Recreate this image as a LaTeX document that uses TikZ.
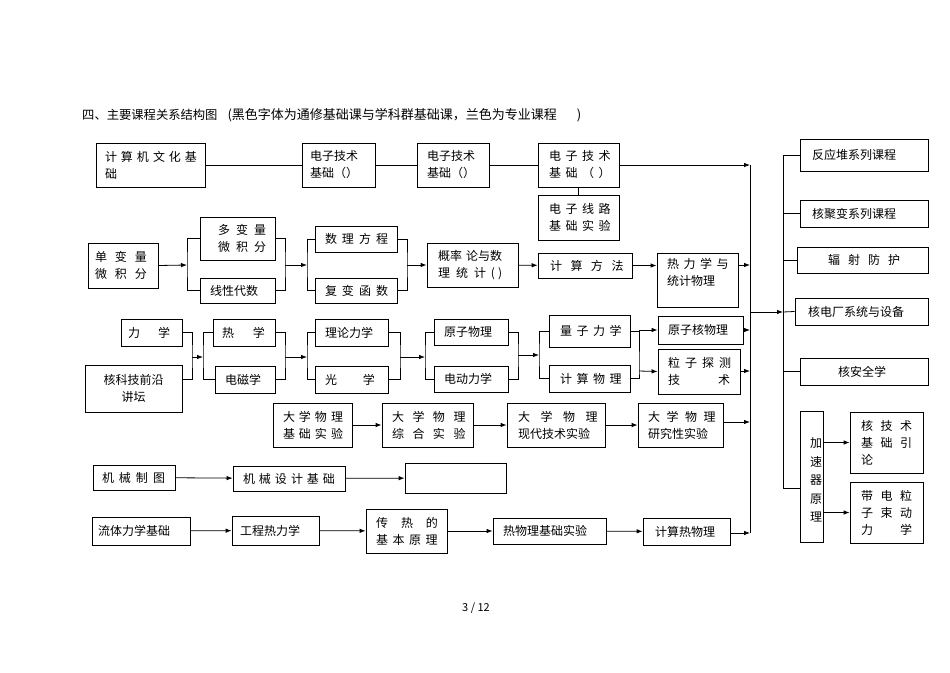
\documentclass[tikz,border=0pt]{standalone}
\usepackage{fontspec}
\setmainfont{Noto Sans CJK SC}
\usetikzlibrary{arrows.meta}
\makeatletter
\newcommand\spreadtxt[2]{\def\spr@gap{#1}\spr@a#2\relax}
\def\spr@a#1#2{#1\ifx\relax#2\else\kern\spr@gap\relax\expandafter\spr@a\expandafter#2\fi}
\makeatother
\newcommand\bx[7]{%
 \pgfmathsetmacro\bxw{#4-#2}\pgfmathsetmacro\bxh{#5-#3}\pgfmathsetmacro\bxt{#4-#2-2*#6}%
 \node[box,minimum width=\bxw pt,minimum height=\bxh pt,text width=\bxt pt,align=left] (#1) at ({(#2+#4)/2},{(#3+#5)/2}) {#7};}
\tikzset{
 box/.style={draw,line width=0.8pt,inner sep=0pt,font=\fontsize{12}{17}\selectfont},
 ln/.style={line width=0.8pt},
 arr/.style={line width=0.8pt,-{Latex[length=6pt,width=4.5pt]}}
}
\begin{document}
\begin{tikzpicture}[x=1pt,y=-1pt]
\useasboundingbox (0,0) rectangle (950,672);
\fill[white] (0,0) rectangle (950,672);
\node[anchor=west,inner sep=0pt,font=\fontsize{12.3}{14}\selectfont] (title) at (82,115) {四、主要课程关系结构图\kern10pt{\fontsize{13}{14}\selectfont(黑色字体为通修基础课与学科群基础课，兰色为专业课程\kern20pt)}};
\node[inner sep=0pt,font=\fontsize{11}{13}\selectfont] (pg) at (476,608) {3 / 12};
% row 1
\bx{jsj}{96}{143}{205}{187}{9}{\spreadtxt{4pt}{计算机文化基}\\础}
\bx{dza}{302}{143}{375}{187}{8}{电子技术\\基础（）}
\bx{dzb}{417}{143}{489}{187}{10}{电子技术\\基础（）}
\bx{dzc}{538}{143}{619}{187}{11}{\spreadtxt{4.5pt}{电子技术}\\\spreadtxt{4.5pt}{基础（）}}
\bx{dxl}{538}{195}{619}{240}{11}{\spreadtxt{4.5pt}{电子线路}\\\spreadtxt{4.5pt}{基础实验}}
% row 2
\bx{dbl}{88}{243}{158}{288}{7}{\spreadtxt{8pt}{单变量}\\\spreadtxt{8pt}{微积分}}
\bx{dbm}{200}{217}{275}{260}{18}{\spreadtxt{6pt}{多变量}\\\spreadtxt{6pt}{微积分}}
\bx{xxds}{200}{278}{275}{303}{10}{线性代数}
\bx{slfc}{315}{226}{397}{252}{10}{\spreadtxt{5pt}{数理方程}}
\bx{fbhs}{315}{278}{397}{303}{10}{\spreadtxt{5pt}{复变函数}}
\bx{gl}{427}{243}{518}{287}{11}{概率\kern4pt 论与数\\理\kern6pt 统\kern6pt 计\kern5pt (\kern3pt)}
\bx{jsff}{538}{253}{632}{278}{12}{\spreadtxt{8.5pt}{计算方法}}
\bx{rlx}{657}{253}{738}{307}{10}{\spreadtxt{4.5pt}{热力学与}\\统计物理\\\mbox{}}
% row 3
\bx{lx}{121}{319}{182}{346}{7}{力\kern18pt 学}
\node[box,align=center,minimum width=97pt,minimum height=47pt] (hkj) at (133.5,388.5) {核科技前沿\\讲坛};
\bx{rx}{213}{319}{275}{346}{9}{热\kern19pt 学}
\bx{dcx}{215}{366}{275}{393}{10}{电磁学}
\bx{llx}{315}{319}{388}{346}{10}{理论力学}
\bx{gx}{315}{366}{388}{393}{10}{光\kern26pt 学}
\bx{yzwl}{434}{319}{508}{345}{10}{原子物理}
\bx{ddlx}{434}{366}{508}{392}{10}{电动力学}
\bx{lzlx}{549}{315}{630}{347}{11}{\spreadtxt{4.5pt}{量子力学}}
\bx{jswl}{549}{365}{630}{392}{11}{\spreadtxt{4.5pt}{计算物理}}
\bx{yzh}{658}{316}{743}{344}{10}{原子核物理}
\bx{lz}{658}{349}{740}{394}{10}{\spreadtxt{5pt}{粒子探测}\\技\hfill 术}
% row 4
\bx{dwa}{273}{403}{352}{447}{10}{\spreadtxt{4pt}{大学物理}\\\spreadtxt{4pt}{基础实验}}
\bx{dwb}{382}{403}{473}{447}{10}{\spreadtxt{8.5pt}{大学物理}\\\spreadtxt{8.5pt}{综合实验}}
\bx{dwc}{507}{403}{605}{447}{11}{\spreadtxt{10.5pt}{大学物理}\\现代技术实验}
\bx{dwd}{638}{403}{723}{447}{10}{\spreadtxt{6.5pt}{大学物理}\\研究性实验}
% row 5
\bx{jxzt}{93}{465}{175}{490}{9}{\spreadtxt{5pt}{机械制图}}
\bx{jxsj}{233}{466}{345}{491}{10}{\spreadtxt{4pt}{机械设计基础}}
\bx{kong}{405}{463}{506}{493}{10}{}
% row 6
\bx{ltlx}{92}{517}{190}{545}{6}{流体力学基础}
\bx{gcrl}{232}{516}{319}{545}{8}{工程热力学}
\bx{cr}{366}{509}{447}{553}{10}{\spreadtxt{13pt}{传热的}\\\spreadtxt{4.5pt}{基本原理}}
\bx{rwl}{493}{518}{606}{544}{10}{热物理基础实验}
\bx{jsrwl}{643}{518}{730}{545}{12}{计算热物理}
% right column
\bx{fyd}{800}{139}{928}{171}{12}{反应堆系列课程}
\bx{hjb}{800}{200}{928}{227}{12}{核聚变系列课程}
\bx{fs}{797}{247}{928}{273}{31}{\spreadtxt{8pt}{辐射防护}}
\bx{hdc}{795}{298}{928}{325}{13}{核电厂系统与设备}
\bx{haq}{800}{358}{928}{385}{38}{核安全学}
\node[box,minimum width=23pt,minimum height=131pt] (jsq) at (811.5,476.5) {};
\node[inner sep=0pt,align=left,font=\fontsize{12}{18.5}\selectfont] (jsqt) at (816,480) {加\\速\\器\\原\\理};
\bx{hjs}{850}{412}{923}{473}{11}{核\hfill 技\hfill 术\\基\hfill 础\hfill 引\\论}
\bx{dd}{850}{482}{923}{543}{11}{带\hfill 电\hfill 粒\\子\hfill 束\hfill 动\\力\hfill 学}
% coordinates
\coordinate (cT) at (750,165);
\coordinate (cB) at (750,533);
\coordinate (c2) at (750,265);
\coordinate (c3) at (750,330);
\coordinate (c4) at (750,371);
\coordinate (c5) at (750,422);
\coordinate (cM) at (750,312);
\coordinate (bus) at (783,312);
\coordinate (jsqb) at (800,488);
\coordinate (bL1) at (187,265);
\coordinate (bR1) at (285,265);
\coordinate (bL2) at (307,265);
\coordinate (bR2) at (407,265);
\coordinate (hkjo) at (182,379);
\coordinate (bL3) at (192,357);
\coordinate (bL3b) at (203,357);
\coordinate (bR3) at (285,357);
\coordinate (bL4) at (307,357);
\coordinate (bR4) at (400,357);
\coordinate (bL5) at (425,357);
\coordinate (bR5) at (518,355);
\coordinate (bL6) at (539,355);
\coordinate (bR6a) at (639,330);
\coordinate (bR6b) at (639,371);
% collector
\draw[ln] (cT) -- (cB);
% row 1
\draw[ln] (jsj) -- (dza);
\draw[ln] (dza) -- (dzb);
\draw[ln] (dzb) -- (dzc);
\draw[arr] (dzc) -- (cT);
\draw[ln] (dzc) -- (dxl);
% row 2
\draw[arr] (dbl.east) -- (bL1);
\draw[ln] (dbm.west) -| (bL1) |- (xxds.west);
\draw[ln] (dbm.east) -| (bR1) |- (xxds.east);
\draw[arr] (bR1) -- (bL2);
\draw[ln] (slfc.west) -| (bL2) |- (fbhs.west);
\draw[ln] (slfc.east) -| (bR2) |- (fbhs.east);
\draw[arr] (bR2) -- (gl.west);
\draw[arr] (gl) -- (jsff);
\draw[arr] (jsff.east) -- (jsff.east -| rlx.west);
\draw[arr] (rlx.east |- c2) -- (c2);
% row 3
\draw[ln] (lx.east) -| (bL3) |- (hkjo);
\draw[arr] (bL3) -- (bL3b);
\draw[ln] (rx.west) -| (bL3b) |- (dcx.west);
\draw[ln] (rx.east) -| (bR3) |- (dcx.east);
\draw[arr] (bR3) -- (bL4);
\draw[ln] (llx.west) -| (bL4) |- (gx.west);
\draw[ln] (llx.east) -| (bR4) |- (gx.east);
\draw[arr] (bR4) -- (bL5);
\draw[ln] (yzwl.west) -| (bL5) |- (ddlx.west);
\draw[ln] (yzwl.east) -| (bR5) |- (ddlx.east);
\draw[arr] (bR5) -- (bL6);
\draw[ln] (lzlx.west) -| (bL6) |- (jswl.west);
\draw[ln] (lzlx.east) -| (bR6b) |- (jswl.east);
\draw[arr] (bR6a) -- (yzh.west);
\draw[arr] (bR6b) -- (lz.west);
\draw[arr] (yzh) -- (c3);
\draw[arr] (lz.east |- c4) -- (c4);
% row 4
\draw[arr] (dwa) -- (dwb);
\draw[arr] (dwb) -- (dwc);
\draw[arr] (dwc) -- (dwd);
\draw[arr] (dwd.east |- c5) -- (c5);
% row 5
\draw[arr] (jxzt) -- (jxsj);
\draw[arr] (jxsj) -- (kong);
% row 6
\draw[arr] (ltlx) -- (gcrl);
\draw[arr] (gcrl) -- (cr);
\draw[arr] (cr) -- (rwl);
\draw[arr] (rwl) -- (jsrwl);
\draw[arr] (jsrwl.east |- cB) -- (cB);
% right side
\draw[arr] (cM) -- (bus);
\draw[ln] (bus) |- (fyd.west);
\draw[ln] (bus) |- (hjb.west);
\draw[ln] (bus) |- (fs.west);
\draw[ln] (bus) -- (hdc.west);
\draw[ln] (bus) |- (haq.west);
\draw[ln] (bus) |- (jsqb);
\draw[arr] (jsq.east |- hjs.west) -- (hjs.west);
\draw[arr] (jsq.east |- dd.west) -- (dd.west);
\end{tikzpicture}
\end{document}
